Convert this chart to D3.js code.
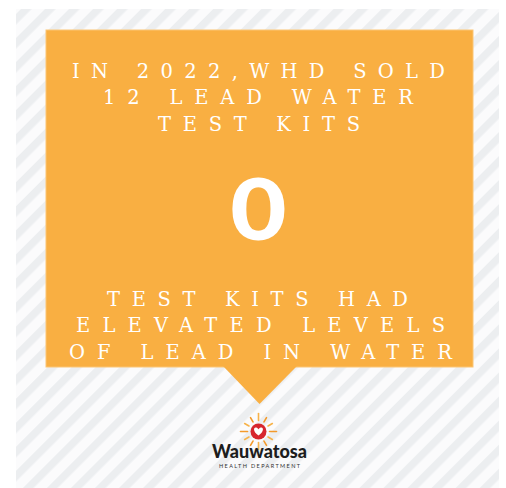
<!DOCTYPE html>
<html>
<head>
<meta charset="utf-8">
<script src="https://cdn.jsdelivr.net/npm/d3@7"></script>
<style>
html,body{margin:0;padding:0;background:#ffffff;}
svg{display:block;}
</style>
</head>
<body>
<script>
// ---- data ----
const topLines = ["IN 2022,WHD SOLD", "12 LEAD WATER", "TEST KITS"];
const topExtents = [[72, 445], [103, 413], [158, 360]];
const bigValue = ["0"];
const bottomLines = ["TEST KITS HAD", "ELEVATED LEVELS", "OF LEAD IN WATER"];
const bottomExtents = [[107, 408], [76, 445], [69, 452]];
const logoName = ["Wauwatosa"];
const logoSub = ["HEALTH DEPARTMENT"];

const W = 506, H = 488;
const orange = "#F9AF42";

const svg = d3.select("body").append("svg").attr("width", W).attr("height", H);
const defs = svg.append("defs");

// stripes pattern
const pat = defs.append("pattern")
  .attr("id", "stripes").attr("patternUnits", "userSpaceOnUse")
  .attr("width", 17).attr("height", 17)
  .attr("patternTransform", "translate(21,9) rotate(45)");
pat.append("rect").attr("width", 17).attr("height", 17).attr("fill", "#fbfbfc");
pat.append("rect").attr("x", 0).attr("width", 7.5).attr("height", 17).attr("fill", "#eceef0");

svg.append("rect").attr("x", 16).attr("y", 9).attr("width", 483).attr("height", 479).attr("fill", "url(#stripes)");

// callout box
const box = {x0: 46, x1: 473, y0: 30, y1: 367};
svg.append("rect")
  .attr("x", box.x0).attr("y", box.y0)
  .attr("width", box.x1 - box.x0).attr("height", box.y1 - box.y0)
  .attr("fill", orange).attr("stroke", "#FBC574").attr("stroke-width", 1);
svg.append("path")
  .attr("d", d3.line()([[223, box.y1 - 1], [297, box.y1 - 1], [259.5, 404]]) + "Z")
  .attr("fill", orange);

// line positions via scales
const yTop = d3.scalePoint().domain(d3.range(topLines.length)).range([77.5, 130.5]);
const yBot = d3.scalePoint().domain(d3.range(bottomLines.length)).range([306, 358.5]);

function capsLines(lines, ext, y, size) {
  svg.append("g").selectAll("text").data(lines).join("text")
    .attr("x", (d, i) => ext[i][0])
    .attr("y", (d, i) => y(i))
    .attr("textLength", (d, i) => ext[i][1] - ext[i][0])
    .attr("lengthAdjust", "spacing")
    .attr("font-family", "DejaVu Serif")
    .attr("font-size", size)
    .attr("fill", "#ffffff")
    .text(d => d);
}
capsLines(topLines, topExtents, yTop, 19.5);
capsLines(bottomLines, bottomExtents, yBot, 19.5);

// big number
svg.append("g").attr("transform", "translate(258.5,240) scale(1.13,1)")
  .selectAll("text").data(bigValue).join("text")
  .attr("x", 0).attr("y", 0)
  .attr("text-anchor", "middle")
  .attr("font-family", "Lato").attr("font-weight", 900)
  .attr("font-size", 86).attr("fill", "#ffffff")
  .text(d => d);

// logo sun
const cx = 258.5, cy = 431.5;
const rays = d3.range(12);
const ang = d3.scaleLinear().domain([0, 12]).range([0, 2 * Math.PI]);
svg.append("g").selectAll("line").data(rays).join("line")
  .attr("x1", d => cx + Math.cos(ang(d)) * 11)
  .attr("y1", d => cy + Math.sin(ang(d)) * 11)
  .attr("x2", d => cx + Math.cos(ang(d)) * (d % 3 === 0 ? 18 : 16))
  .attr("y2", d => cy + Math.sin(ang(d)) * (d % 3 === 0 ? 18 : 16))
  .attr("stroke", d => d % 2 ? "#F7B34A" : "#F39A2B")
  .attr("stroke-width", 1.6).attr("stroke-linecap", "round");
svg.append("circle").attr("cx", cx).attr("cy", cy).attr("r", 8).attr("fill", "#D7262E");
svg.append("path")
  .attr("d", `M${cx},${cy + 4} C${cx - 6},${cy} ${cx - 5},${cy - 4.5} ${cx - 2.5},${cy - 4} C${cx - 1},${cy - 3.8} ${cx},${cy - 2.5} ${cx},${cy - 2} C${cx},${cy - 2.5} ${cx + 1},${cy - 3.8} ${cx + 2.5},${cy - 4} C${cx + 5},${cy - 4.5} ${cx + 6},${cy} ${cx},${cy + 4} Z`)
  .attr("fill", "#ffffff");

svg.append("g").selectAll("text").data(logoName).join("text")
  .attr("x", 212).attr("y", 458)
  .attr("textLength", 95).attr("lengthAdjust", "spacingAndGlyphs")
  .attr("font-family", "Lato").attr("font-weight", 900)
  .attr("font-size", 18).attr("fill", "#1d1d1d")
  .text(d => d);
svg.append("g").selectAll("text").data(logoSub).join("text")
  .attr("x", 219).attr("y", 467.5)
  .attr("textLength", 81).attr("lengthAdjust", "spacing")
  .attr("font-family", "Lato").attr("font-weight", 400)
  .attr("font-size", 5.5).attr("fill", "#333333")
  .text(d => d);
</script>
</body>
</html>
